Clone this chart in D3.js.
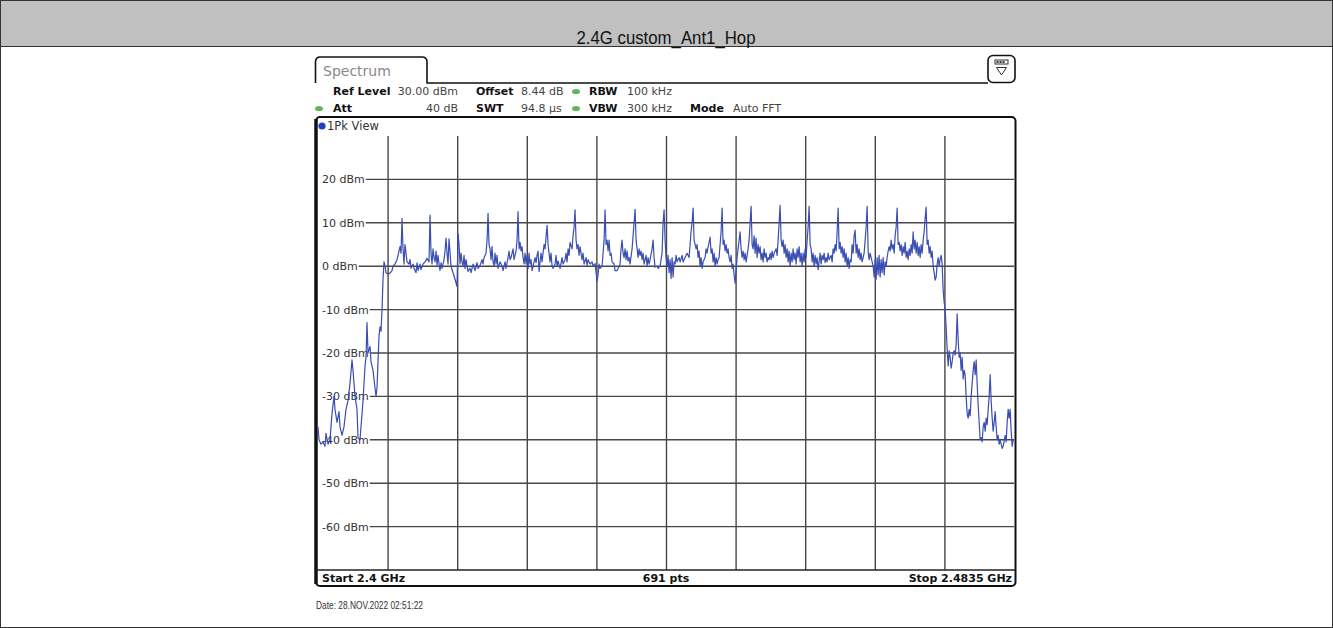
<!DOCTYPE html>
<html><head><meta charset="utf-8">
<script src="https://cdn.jsdelivr.net/npm/d3@7"></script>
<style>html,body{margin:0;padding:0;background:#fff;} svg{display:block}</style>
</head><body>
<svg id="c" width="1333" height="628"></svg>
<script>
// ---------------- data ----------------
const chartTitle = "2.4G custom_Ant1_Hop";
const startMHz = 2400, stopMHz = 2483.5;
const startLabel = "Start 2.4 GHz", stopLabel = "Stop 2.4835 GHz", ptsLabel = "691 pts";
const refLevelDbm = 30, bottomLevelDbm = -70;
const levelTicks = [20, 10, 0, -10, -20, -30, -40, -50, -60];
const freqDivisions = 10;
const settingsRow1 = [["Ref Level", "30.00 dBm"], ["Offset", "8.44 dB"], ["RBW", "100 kHz"]];
const settingsRow2 = [["Att", "40 dB"], ["SWT", "94.8 µs"], ["VBW", "300 kHz"], ["Mode", "Auto FFT"]];
const tabLabel = "Spectrum";
const traceLabel = "1Pk View";
const dateLabel = "Date: 28.NOV.2022  02:51:22";
const binWidthMHz = 0.12;
// [frequency bin from start, level dBm]
const trace = [[0,-37],[1,-40],[3,-41],[5,-40.5],[7,-41.5],[8,-38.5],[10,-41],[12,-40],[14,-34],[16,-30],[17,-33],[19,-36],[21,-33.5],[22,-37],[24,-39],[26,-37],[28,-33],[30,-31],[32,-27],[34,-21.6],[35,-24],[37,-30],[39,-33],[40,-39.5],[42,-40],[43,-37],[45,-31],[47,-23],[48,-21],[49,-13],[50,-20],[52,-18.5],[53,-22],[55,-24],[57,-28],[58,-30],[59,-28],[60,-22],[61,-16],[62,-14],[63,-15],[64,-10],[65,-3],[66,1],[67,0],[68,-1.5],[70,-1.8],[72,-1.6],[74,-1],[75,0],[77,0.5],[79,1.5],[80,2.5],[82,4.5],[83,3],[84,11],[85,4],[86,0.5],[87,5],[88,3],[89,1],[91,0.5],[92,1.5],[93,-0.5],[95,0.5],[96,-0.5],[98,-1.5],[99,0.8],[100,-1],[102,0.5],[103,-0.8],[105,0.5],[107,1],[109,1.8],[111,1],[112,11.8],[113,3],[114,0.5],[115,4],[116,2],[117,1],[118,3.5],[119,0.2],[120,2.5],[121,0.5],[122,-1],[123,0.8],[124,-0.5],[126,1.5],[127,3.5],[128,6.5],[129,3],[130,0.5],[131,6.3],[133,0],[135,-1.5],[137,-3],[139,-4.7],[140,7.5],[141,5],[142,0.5],[143,3],[144,1],[145,0],[146,2.5],[147,-0.5],[148,1.5],[149,0],[150,-1.2],[152,-0.5],[153,-1.5],[155,0.5],[157,-1],[159,0.8],[160,-0.5],[162,0.2],[164,1.5],[165,0.5],[166,2],[168,3],[169,6],[170,12.2],[171,5],[172,4],[173,1.5],[174,4.5],[175,1],[176,0],[177,3],[178,0.5],[179,2.5],[180,-0.5],[182,1],[184,0],[185,-1],[187,1],[188,-0.5],[190,2],[191,3.5],[192,1.5],[193,2],[195,4],[196,1.5],[198,3.5],[199,6],[200,12.6],[201,4],[202,5.5],[203,3.5],[204,4.5],[205,2],[206,0.5],[207,3],[208,0.5],[209,2.5],[210,-0.5],[211,3],[212,0.5],[213,1.5],[214,-1],[216,1],[217,2],[218,0.8],[219,2.5],[220,3.5],[221,-1.2],[222,1],[223,3],[224,1],[226,5],[227,4],[229,9.4],[230,5],[231,3],[232,1],[233,3],[234,0],[235,-0.5],[237,0.5],[238,2.5],[239,0],[240,1.2],[242,-0.5],[244,2],[245,0.5],[247,1.5],[248,3],[249,1],[250,4],[251,2.5],[252,5.5],[254,4],[255,7],[256,9],[257,13],[258,6],[259,4],[260,5],[261,2.5],[262,4.5],[264,1.5],[265,3],[266,0.5],[268,2],[269,0.2],[270,1.5],[272,0.5],[274,1],[275,0],[277,0.6],[278,-1.5],[279,-3.5],[280,-2],[281,0.5],[282,-0.5],[284,0],[285,3],[286,6],[287,13],[288,5],[289,6],[290,3.5],[291,6],[292,2.5],[293,3],[294,1],[296,0.5],[297,-1],[299,-1],[301,0],[302,0.5],[303,4],[304,6],[305,3],[306,2],[307,4],[308,1.5],[309,3.5],[310,1.2],[311,2],[312,0.5],[314,4],[315,7],[316,10],[317,13.1],[318,6],[319,4],[320,2],[321,4],[322,2.5],[323,3.5],[324,1.5],[325,3],[326,0.5],[328,2.5],[329,0],[330,2],[331,0.5],[332,1.5],[334,4],[335,6],[336,2],[337,-0.2],[339,0],[340,-0.5],[342,0],[343,1.5],[344,3],[345,10],[346,13],[347,6],[348,2],[349,0],[350,2.5],[351,-1.5],[352,1.5],[353,-2.8],[354,2],[355,-2.5],[356,1],[357,0.5],[358,2.5],[359,1],[361,2],[362,1],[364,2.5],[365,1],[367,2],[369,3],[371,2],[372,5],[373,8],[374,10],[375,13.4],[376,6],[377,5],[378,4],[379,5],[380,2],[381,3.5],[382,0],[383,2],[384,-0.5],[385,1],[387,2],[388,4],[389,3],[390,4.5],[391,5.5],[392,6.7],[393,3],[394,4],[395,1],[396,3],[397,0],[398,2],[399,0.5],[400,1.5],[401,2],[402,5],[403,8],[404,13.4],[405,5],[406,6],[407,3.5],[408,5],[409,3],[410,4],[411,2],[412,1],[413,2.5],[414,-0.5],[415,0.5],[416,-2],[417,-3.9],[418,-1],[419,2],[420,4],[421,6],[422,7.9],[423,4],[424,2],[425,3.5],[426,1.5],[427,3],[428,1],[429,2.5],[430,4],[431,6],[432,10],[433,13.8],[434,5],[435,4],[436,7],[437,3],[438,6.5],[439,2],[440,5],[441,3],[442,4.5],[443,1.5],[444,3],[445,1],[446,4],[447,2],[448,3],[449,1],[450,2],[451,1.5],[452,3],[453,1.5],[454,3.5],[455,2],[456,3],[458,4],[459,2.5],[460,6],[461,10],[462,14],[463,6],[464,4.5],[465,6],[466,3],[467,5],[468,2],[469,4],[470,1],[471,3.5],[472,0],[473,3],[474,1],[475,4],[476,1.5],[477,3],[478,0.5],[479,4],[480,2],[481,4.5],[482,1],[483,3],[484,0],[485,3],[486,1],[487,4],[488,2],[489,6],[490,9],[491,13.8],[492,5],[493,4],[494,1],[495,3],[496,0],[497,2.5],[498,0.5],[499,2],[500,-0.8],[501,1],[502,3],[503,0.5],[504,2.5],[505,1.5],[506,3],[507,0.8],[508,2],[509,1],[510,3],[511,1.5],[512,2],[513,2.5],[514,1],[515,4],[516,3],[517,5],[518,3.5],[519,8],[520,13.4],[521,4],[522,5.5],[523,3],[524,4.5],[525,2],[526,4],[527,1],[528,3],[529,0],[530,2],[531,-0.5],[532,1.5],[533,1],[534,5],[535,3],[536,7],[537,8.3],[538,3],[539,5],[540,2],[541,4],[542,1.5],[543,3],[544,1],[545,2],[546,3],[547,6],[548,9],[549,13.8],[550,3.5],[551,1.5],[552,3],[553,2],[554,1],[555,0],[556,-2.5],[557,1.5],[558,-3],[559,2],[560,-2],[561,2.5],[562,-2.5],[563,1.5],[564,-1.5],[565,2],[566,-2],[567,1],[568,0],[569,2],[570,3.5],[571,4.5],[572,3.5],[573,6],[574,4],[575,5],[576,3],[577,7],[578,9],[579,13.4],[580,5],[581,5.5],[582,3.5],[583,5],[584,2.5],[585,4.5],[586,3],[587,5.5],[588,2],[589,3.5],[590,1.5],[591,4],[592,2.5],[593,5],[594,3],[595,7.9],[596,4],[597,6],[598,3],[599,5.5],[600,2.5],[601,4.5],[602,2],[603,5],[604,3],[605,6],[606,8],[607,11],[608,13.6],[609,5],[610,6],[611,3],[612,4.5],[613,2],[614,3.5],[615,0],[616,-1.5],[617,-3.2],[618,-2.5],[619,0.5],[620,2],[621,0],[622,1.5],[623,2.5],[624,0.5],[625,-5.5],[626,-8.3],[627,-10],[628,-14],[629,-19],[630,-23],[631,-19.5],[632,-21],[633,-23.5],[634,-22],[635,-20],[636,-19.5],[637,-20.5],[638,-18],[639,-11],[640,-17],[641,-21],[642,-20],[643,-24],[644,-21],[645,-26],[646,-24],[647,-25],[648,-30],[649,-34],[650,-35],[651,-33],[652,-34.5],[653,-30],[654,-27],[655,-24],[656,-22],[657,-25],[658,-21.6],[659,-27],[660,-32],[661,-36],[662,-40],[663,-39.5],[664,-40.5],[665,-37],[666,-36],[667,-38],[668,-35],[669,-36.5],[670,-33],[671,-30],[672,-25],[673,-31],[674,-35],[675,-38],[676,-36],[677,-33.5],[678,-37],[679,-40],[680,-39],[681,-41],[682,-40],[684,-42],[685,-41.5],[687,-39],[688,-40.5],[689,-36],[690,-33],[691,-35],[692,-33],[693,-38],[694,-41.5],[695,-40]];

// ---------------- drawing ----------------
const W = 1333, H = 628;
const svg = d3.select("#c");
const RS = "DejaVu Sans, Verdana, sans-serif";
const AR = "Liberation Sans, Arial, sans-serif";

svg.append("rect").attr("x", 0.5).attr("y", 0.5).attr("width", W - 1).attr("height", H - 1)
  .attr("fill", "#fff").attr("stroke", "#333");
svg.append("rect").attr("x", 0.5).attr("y", 0.5).attr("width", W - 1).attr("height", 46)
  .attr("fill", "#c0c0c0").attr("stroke", "#333");
svg.append("text").attr("x", 666).attr("y", 44).attr("text-anchor", "middle")
  .attr("font-family", AR).attr("font-size", 18.5).attr("fill", "#111")
  .attr("textLength", 179).attr("lengthAdjust", "spacingAndGlyphs").text(chartTitle);

// plot geometry
const L = 318, R = 1014, T = 136, B = 570;
const x = d3.scaleLinear().domain([startMHz, stopMHz]).range([L, R]);
const y = d3.scaleLinear().domain([bottomLevelDbm, refLevelDbm]).range([B, T]);

// tab + header line
svg.append("path")
  .attr("d", `M315.5,83 V62 Q315.5,57 320.5,57 H422 Q427,57 427,62 V83 H988`)
  .attr("fill", "none").attr("stroke", "#111").attr("stroke-width", 1.6);
svg.append("text").attr("x", 323).attr("y", 76).attr("font-family", RS).attr("font-size", 14)
  .attr("fill", "#8a8a8a").text(tabLabel);
// icon box
svg.append("rect").attr("x", 988).attr("y", 55.5).attr("width", 27).attr("height", 27).attr("rx", 5)
  .attr("fill", "#fff").attr("stroke", "#111").attr("stroke-width", 1.6);
svg.append("rect").attr("x", 995).attr("y", 60).attr("width", 13).attr("height", 4)
  .attr("fill", "#fff").attr("stroke", "#333").attr("stroke-width", 1);
[996.5, 999.5, 1002.5].forEach(cx => svg.append("rect").attr("x", cx).attr("y", 61).attr("width", 2).attr("height", 2).attr("fill", "#333"));
svg.append("path").attr("d", "M996.5,67.5 H1006.5 L1001.5,75 Z").attr("fill", "none").attr("stroke", "#333").attr("stroke-width", 1);

// settings
const setFont = (t, bold) => t.attr("font-family", RS).attr("font-size", 11)
  .attr("font-weight", bold ? "bold" : "normal").attr("fill", bold ? "#111" : "#444");
const labelX = [333, 476, 589, 690];
const valueX = [458, 521, 627, 733];
const valueAnchor = ["end", "start", "start", "start"];
[[settingsRow1, 95], [settingsRow2, 112]].forEach(([row, by]) => {
  row.forEach((d, i) => {
    setFont(svg.append("text").attr("x", labelX[i]).attr("y", by), true).text(d[0]);
    setFont(svg.append("text").attr("x", valueX[i]).attr("y", by).attr("text-anchor", valueAnchor[i]), false).text(d[1]);
  });
});
[[576, 91.5], [319, 108.5], [576, 108.5]].forEach(([cx, cy]) =>
  svg.append("ellipse").attr("cx", cx).attr("cy", cy).attr("rx", 4).attr("ry", 2.6).attr("fill", "#5cb85c"));

// main frame
svg.append("rect").attr("x", 316).attr("y", 117).attr("width", 699.5).attr("height", 469).attr("rx", 4)
  .attr("fill", "#fff").attr("stroke", "#111").attr("stroke-width", 2);
svg.append("line").attr("x1", 316).attr("x2", 316).attr("y1", 119).attr("y2", 584)
  .attr("stroke", "#111").attr("stroke-width", 3.5);
svg.append("circle").attr("cx", 322).attr("cy", 126).attr("r", 3.6).attr("fill", "#1f3fc8");
svg.append("text").attr("x", 327).attr("y", 130).attr("font-family", RS).attr("font-size", 11.5)
  .attr("fill", "#333").text(traceLabel);

// vertical grid
const freqGrid = d3.range(1, freqDivisions).map(i => startMHz + i * (stopMHz - startMHz) / freqDivisions);
const gx = svg.append("g").attr("transform", `translate(0,${B})`)
  .call(d3.axisBottom(x).tickValues(freqGrid).tickSize(-(B - T)).tickFormat(""));
gx.select(".domain").remove();
gx.selectAll("line").attr("stroke", "#474747").attr("stroke-width", 1.4);

// horizontal grid with labels
const gy = svg.append("g");
levelTicks.forEach(t => {
  const lbl = gy.append("text").attr("x", 322).attr("y", y(t) + 4)
    .attr("font-family", RS).attr("font-size", 11).attr("fill", "#333").text(`${t} dBm`);
  const end = 322 + lbl.node().getComputedTextLength() + 1;
  gy.append("line").attr("x1", end).attr("x2", R).attr("y1", y(t)).attr("y2", y(t))
    .attr("stroke", "#474747").attr("stroke-width", 1.4);
});
svg.append("line").attr("x1", L - 2).attr("x2", R + 1).attr("y1", B).attr("y2", B)
  .attr("stroke", "#222").attr("stroke-width", 1.4);

// trace
svg.append("clipPath").attr("id", "pc").append("rect").attr("x", L).attr("y", T).attr("width", R - L).attr("height", B - T);
const line = d3.line().x(d => x(startMHz + d[0] * binWidthMHz)).y(d => y(d[1]));
svg.append("path").datum(trace).attr("d", line).attr("clip-path", "url(#pc)")
  .attr("fill", "none").attr("stroke", "#3a4db3").attr("stroke-width", 1.2).attr("stroke-linejoin", "round");

// bottom row
const bt = (xx, anchor, s) => svg.append("text").attr("x", xx).attr("y", 582).attr("text-anchor", anchor)
  .attr("font-family", RS).attr("font-size", 11).attr("font-weight", "bold").attr("fill", "#111").text(s);
bt(322, "start", startLabel);
bt((L + R) / 2, "middle", ptsLabel);
bt(1012, "end", stopLabel);

svg.append("text").attr("x", 316).attr("y", 609).attr("font-family", AR).attr("font-size", 10.5)
  .attr("fill", "#333").attr("textLength", 107).attr("lengthAdjust", "spacingAndGlyphs").text(dateLabel);
</script>
</body></html>
